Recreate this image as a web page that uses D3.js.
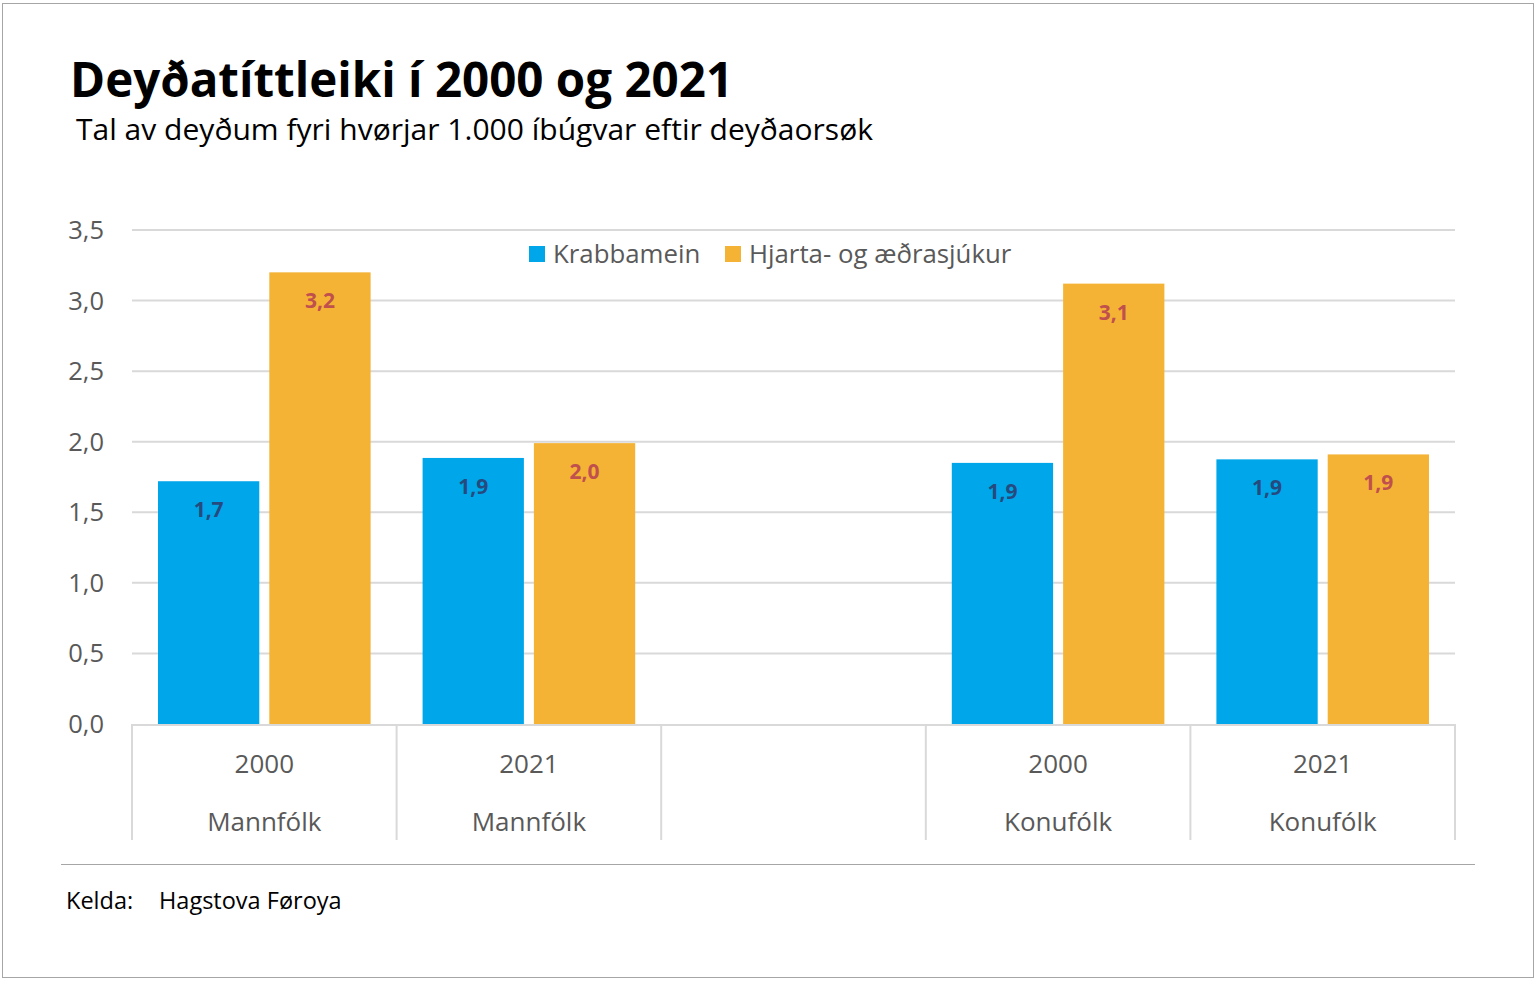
<!DOCTYPE html>
<html><head><meta charset="utf-8">
<script src="https://cdn.jsdelivr.net/npm/d3@7/dist/d3.min.js"></script>
<style>body{margin:0;background:#fff;font-family:"Open Sans",sans-serif;}</style>
</head><body><svg id="c" width="1539" height="983"></svg>
<script>
const years = ["2000","2021","","2000","2021"];
const groups = ["Mannfólk","Mannfólk","","Konufólk","Konufólk"];
const seriesNames = ["Krabbamein","Hjarta- og æðrasjúkur"];
const krabbamein = [1.72, 1.885, null, 1.85, 1.875];
const hjarta = [3.20, 1.99, null, 3.12, 1.91];
const yTicks = [0,0.5,1,1.5,2,2.5,3,3.5];
const colors = ["#00A6EA","#F5B335"];
const labelColors = ["#264A7E","#C0504D"];

const svg = d3.select("#c");
svg.append("rect").attr("x",2.5).attr("y",3.5).attr("width",1531).attr("height",974).attr("fill","#fff").attr("stroke","#a6a6a6").attr("stroke-width",1);

svg.append("text").attr("x",70).attr("y",97).attr("font-size",47.5).attr("font-weight",700).attr("fill","#000").text("Deyðatíttleiki í 2000 og 2021");
svg.append("text").attr("x",76).attr("y",140).attr("font-size",30).attr("fill","#000").attr("textLength",797).attr("lengthAdjust","spacing").text("Tal av deyðum fyri hvørjar 1.000 íbúgvar eftir deyðaorsøk");

const L=132,R=1455,T=230,B=724;
const idx = d3.range(years.length);
const x = d3.scaleBand().domain(idx).range([L,R]).paddingInner(0).paddingOuter(0);
const y = d3.scaleLinear().domain([0,3.5]).range([B,T]);
const xs = d3.scaleBand().domain([0,1]).range([26, x.bandwidth()-26]).paddingInner(0.09);

// gridlines
svg.append("g").selectAll("line").data(yTicks.filter(d=>d>0)).join("line")
  .attr("x1",L).attr("x2",R).attr("y1",d=>y(d)).attr("y2",d=>y(d)).attr("stroke","#d9d9d9").attr("stroke-width",2);
// y labels
svg.append("g").selectAll("text").data(yTicks).join("text")
  .attr("x",104).attr("y",d=>y(d)+9).attr("text-anchor","end").attr("font-size",25.5).attr("fill","#595959")
  .text(d=>d3.format(".1f")(d).replace(".",","));

const data = [krabbamein,hjarta];
data.forEach((vals,s)=>{
  const g = svg.append("g");
  idx.forEach(i=>{
    if(vals[i]==null) return;
    const bx = x(i)+xs(s);
    g.append("rect").attr("x",bx).attr("y",y(vals[i])).attr("width",xs.bandwidth()).attr("height",B-y(vals[i])).attr("fill",colors[s]);
    g.append("text").attr("x",bx+xs.bandwidth()/2).attr("y",y(vals[i])+36).attr("text-anchor","middle")
      .attr("font-size",21).attr("font-weight",700).attr("fill",labelColors[s])
      .text(d3.format(".1f")(vals[i]).replace(".",","));
  });
});

// x axis
svg.append("line").attr("x1",L).attr("x2",R).attr("y1",B+1).attr("y2",B+1).attr("stroke","#d9d9d9").attr("stroke-width",2);
svg.append("g").selectAll("line").data(d3.range(years.length+1)).join("line")
  .attr("x1",d=>d<years.length?x(d):R).attr("x2",d=>d<years.length?x(d):R)
  .attr("y1",B).attr("y2",840).attr("stroke","#d9d9d9").attr("stroke-width",2);
idx.forEach(i=>{
  const cx = x(i)+x.bandwidth()/2;
  svg.append("text").attr("x",cx).attr("y",773).attr("text-anchor","middle").attr("font-size",26).attr("fill","#595959").text(years[i]);
  svg.append("text").attr("x",cx).attr("y",831).attr("text-anchor","middle").attr("font-size",26).attr("fill","#595959").text(groups[i]);
});

// legend
const leg = svg.append("g");
const legX = [529, 725];
seriesNames.forEach((n,s)=>{
  leg.append("rect").attr("x",legX[s]).attr("y",246).attr("width",16).attr("height",16).attr("fill",colors[s]);
  leg.append("text").attr("x",legX[s]+24).attr("y",263).attr("font-size",25.8).attr("fill","#595959").text(n);
});

// footer
svg.append("line").attr("x1",61).attr("x2",1475).attr("y1",864.5).attr("y2",864.5).attr("stroke","#a6a6a6").attr("stroke-width",1);
svg.append("text").attr("x",66).attr("y",909).attr("font-size",23.5).attr("fill","#000").text("Kelda:");
svg.append("text").attr("x",159).attr("y",909).attr("font-size",23.5).attr("fill","#000").text("Hagstova Føroya");
</script></body></html>
